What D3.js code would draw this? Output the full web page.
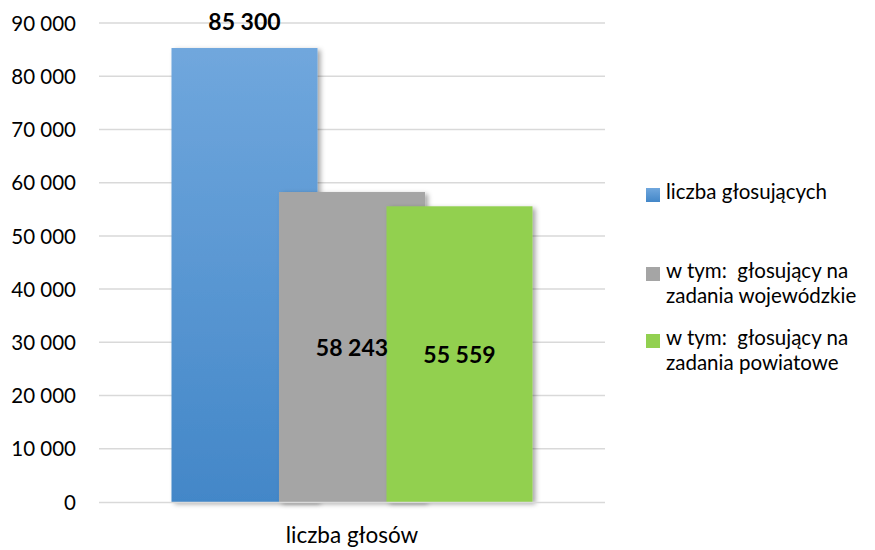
<!DOCTYPE html>
<html><head><meta charset="utf-8">
<script src="https://cdn.jsdelivr.net/npm/d3@7"></script>
<style>body{margin:0;background:#fff}svg{display:block;font-family:Lato,sans-serif}text{white-space:pre}</style>
</head><body>
<svg id="c" width="875" height="550"></svg>
<script>
const categories = ["liczba głosów"];
const seriesNames = ["liczba głosujących", "w tym:  głosujący na zadania wojewódzkie", "w tym:  głosujący na zadania powiatowe"];
const legendLines = [["liczba głosujących"], ["w tym:  głosujący na", "zadania wojewódzkie"], ["w tym:  głosujący na", "zadania powiatowe"]];
const values = [85300, 58243, 55559];
const labelText = ["85 300", "58 243", "55 559"];
const yTicks = [0, 10000, 20000, 30000, 40000, 50000, 60000, 70000, 80000, 90000];
const colors = ["url(#gBlue)", "#a5a5a5", "#92d050"];
const legendColors = ["url(#gBlueL)", "#a5a5a5", "#92d050"];

const svg = d3.select("#c");
const defs = svg.append("defs");
const g1 = defs.append("linearGradient").attr("id","gBlue").attr("x1",0).attr("y1",0).attr("x2",0).attr("y2",1);
g1.append("stop").attr("offset","0%").attr("stop-color","#70a7dd");
g1.append("stop").attr("offset","100%").attr("stop-color","#4387c8");
const g2 = defs.append("linearGradient").attr("id","gBlueL").attr("x1",0).attr("y1",0).attr("x2",0).attr("y2",1);
g2.append("stop").attr("offset","0%").attr("stop-color","#70a7dd");
g2.append("stop").attr("offset","100%").attr("stop-color","#4387c8");
const f = defs.append("filter").attr("id","sh").attr("x","-20%").attr("y","-20%").attr("width","140%").attr("height","140%");
f.append("feDropShadow").attr("dx",3).attr("dy",2).attr("stdDeviation",2.5).attr("flood-color","#000").attr("flood-opacity",0.35);

const pLeft = 99, pRight = 605, pTop = 23, pBottom = 502;
const y = d3.scaleLinear().domain([0, 90000]).range([pBottom, pTop]);
const x0 = d3.scaleBand().domain(categories).range([pLeft, pRight]).paddingInner(0).paddingOuter(0.2008);
const barW = x0.bandwidth() * 0.4045;
const x1 = d3.scalePoint().domain(seriesNames).range([0, x0.bandwidth() - barW]);

// grid
svg.append("g").selectAll("line").data(yTicks.filter(d => d > 0)).join("line")
  .attr("x1", pLeft).attr("x2", pRight)
  .attr("y1", d => y(d)).attr("y2", d => y(d))
  .attr("stroke", "#d9d9d9").attr("stroke-width", 1.5);

// y axis labels
const yAxis = d3.axisLeft(y).tickValues(yTicks).tickSize(0).tickPadding(0)
  .tickFormat(d => d3.format(",")(d).replace(/,/g, " "));
const ya = svg.append("g").attr("transform", "translate(76,0)").call(yAxis);
ya.select(".domain").remove();
ya.selectAll("text").attr("font-family", "Lato").attr("font-size", 20.5).attr("fill", "#000").attr("dy", "0.35em");

// bars
const cat = categories[0];
svg.append("g").selectAll("rect").data(values).join("rect")
  .attr("x", (d, i) => x0(cat) + x1(seriesNames[i]))
  .attr("y", d => y(d))
  .attr("width", barW)
  .attr("height", d => y(0) - y(d))
  .attr("fill", (d, i) => colors[i])
  .attr("filter", "url(#sh)");

// x axis line
svg.append("line").attr("x1", pLeft).attr("x2", pRight).attr("y1", pBottom + 0.5).attr("y2", pBottom + 0.5)
  .attr("stroke", "#d9d9d9").attr("stroke-width", 1.5);

// x axis label
const xAxis = d3.axisBottom(x0).tickSize(0).tickPadding(0);
const xa = svg.append("g").attr("transform", `translate(0,${pBottom})`).call(xAxis);
xa.select(".domain").remove();
xa.selectAll("text").attr("font-family", "Lato").attr("font-size", 22.5).attr("fill", "#000")
  .attr("y", 41).attr("dy", 0);

// data labels
svg.append("g").selectAll("text").data(values).join("text")
  .attr("x", (d, i) => x0(cat) + x1(seriesNames[i]) + barW / 2)
  .attr("y", (d, i) => i === 0 ? y(d) - 18 : (y(d) + y(0)) / 2 + 9)
  .attr("text-anchor", "middle")
  .attr("font-weight", "bold").attr("font-size", 23).attr("fill", "#000")
  .text((d, i) => labelText[i]);

// legend
const legBase = [199, 278, 345];
const lg = svg.append("g");
seriesNames.forEach((s, i) => {
  lg.append("rect").attr("x", 646).attr("y", legBase[i] - 11).attr("width", 14).attr("height", 14).attr("fill", legendColors[i]);
  legendLines[i].forEach((t, j) => {
    lg.append("text").attr("x", 666).attr("y", legBase[i] + j * 25)
      .attr("font-size", 20.5).attr("fill", "#000").text(t);
  });
});
</script>
</body></html>
